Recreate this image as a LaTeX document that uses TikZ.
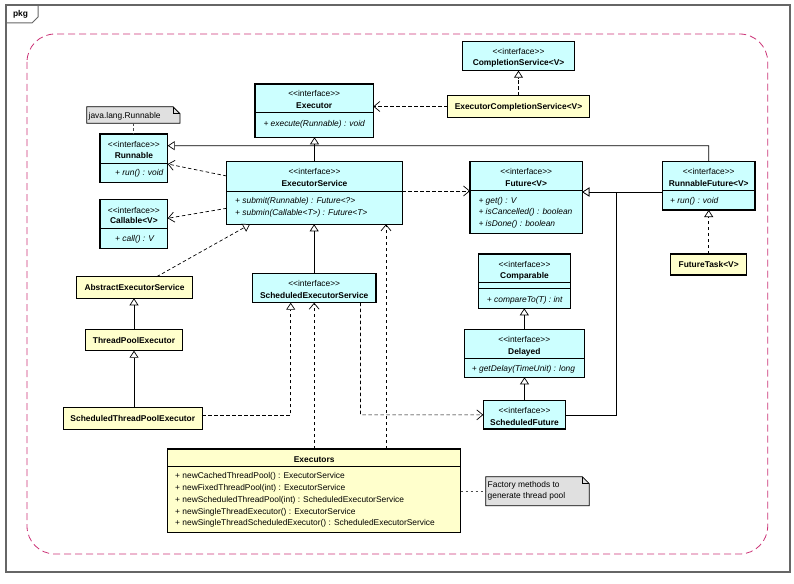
\documentclass[tikz,border=0pt]{standalone}
\usepackage{fontspec}
\newfontfamily\uf{Liberation Sans}
\usetikzlibrary{arrows.meta}
\definecolor{ifc}{HTML}{CCFFFF}
\definecolor{clc}{HTML}{FFFFCC}
\definecolor{notec}{HTML}{E0E0E0}
\definecolor{pinkc}{HTML}{CC3377}
\definecolor{framec}{HTML}{666666}
\newcommand\ubox[6]{%
 \pgfmathsetmacro\ubW{#5-#3}\pgfmathsetmacro\ubH{#6-#4}%
 \pgfmathsetmacro\ubX{(#3+#5)/2}\pgfmathsetmacro\ubY{(#4+#6)/2}%
 \node[#2, minimum width=\ubW pt, minimum height=\ubH pt] (#1) at (\ubX,\ubY) {};}
\newcommand\ct[4]{\node[txt,anchor=base] (#1) at (#2,{#3+3}) {#4};}
\newcommand\lt[4]{\node[txt,anchor=base west] (#1) at (#2,{#3+3}) {#4};}
\begin{document}
\begin{tikzpicture}[x=1pt,y=-1pt,
  txt/.style={inner sep=0pt,font=\uf\fontsize{8.4}{10}\selectfont},
  ifbox/.style={draw=black,fill=ifc,line width=1.3pt,inner sep=0pt,outer sep=0pt},
  clbox/.style={draw=black,fill=clc,line width=1.3pt,inner sep=0pt,outer sep=0pt},
  notebox/.style={inner sep=0pt,outer sep=0pt},
  divl/.style={line width=0.8pt},
  gen/.style={line width=0.7pt,-{Triangle[length=7pt,width=9pt,fill=white]}},
  real/.style={gen,dash pattern=on 3.5pt off 2.5pt},
  dep/.style={line width=0.7pt,dash pattern=on 3.5pt off 2.5pt,-{Straight Barb[length=6pt,width=10pt]}},
  ndot/.style={line width=0.8pt,draw=black!70,dash pattern=on 2.5pt off 2.5pt}]
\useasboundingbox (0,0) rectangle (794,583);
\fill[white] (0,0) rectangle (794,583);
% frame
\draw[framec,line width=1.5pt] (6,5) rectangle (790,572);
\node[notebox] (tab) at (22,14) {};
\draw[framec,line width=1pt] (6,23) -- (32,23) -- (38,17) -- (38,5);
\node[txt,font=\uf\fontsize{8.4}{10}\selectfont\bfseries] (pkg) at (20.5,14.5) {pkg};
% package boundary
\draw[pinkc,line width=0.8pt,dash pattern=on 7pt off 4pt,rounded corners=28pt] (27,34) rectangle (767.7,554);

% CompletionService
\ubox{compl}{ifbox}{462.7}{41.7}{574.3}{70.7}
\ct{complst}{518.5}{52}{<<interface>>}
\ct{complnm}{518.5}{63}{\bfseries CompletionService<V>}
% ExecutorCompletionService
\ubox{ecs}{clbox}{447.7}{95.7}{589.3}{117.3}
\ct{ecsnm}{518.5}{106.5}{\bfseries ExecutorCompletionService<V>}
% Executor
\ubox{exec}{ifbox}{255}{84}{373.3}{137.3}
\draw[divl] (255,112.7) -- (373.3,112.7);
\ct{execst}{314.2}{94}{<<interface>>}
\ct{execnm}{314.2}{106}{\bfseries Executor}
\ct{execm}{314.2}{123}{\itshape + execute(Runnable) : void}
% note java.lang.Runnable
\ubox{notea}{notebox}{86.7}{106.7}{180}{123.3}
\filldraw[fill=notec,draw=black,line width=0.8pt] (86.7,106.7) -- (173,106.7) -- (180,113.7) -- (180,123.3) -- (86.7,123.3) -- cycle;
\draw[line width=0.8pt] (173,106.7) -- (173,113.7) -- (180,113.7);
\lt{noteat}{88.5}{115}{java.lang.Runnable}
% Runnable
\ubox{runnable}{ifbox}{100}{134}{167.7}{182.3}
\draw[divl] (100,163.3) -- (167.7,163.3);
\ct{runst}{133.9}{144.3}{<<interface>>}
\ct{runnm}{133.9}{155.7}{\bfseries Runnable}
\lt{runm}{115}{172.7}{\itshape + run() : void}
% Callable
\ubox{callable}{ifbox}{100}{199.3}{167.7}{248.3}
\draw[divl] (100,228.3) -- (167.7,228.3);
\ct{callst}{133.9}{210}{<<interface>>}
\ct{callnm}{133.9}{220.7}{\bfseries Callable<V>}
\lt{callm}{115}{238.3}{\itshape + call() : V}
% ExecutorService
\ubox{es}{ifbox}{226.7}{161.7}{402.3}{224.3}
\draw[divl] (226.7,191) -- (402.3,191);
\ct{esst}{314.5}{171.7}{<<interface>>}
\ct{esnm}{314.5}{183.3}{\bfseries ExecutorService}
\lt{esma}{235}{200.7}{\itshape + submit(Runnable) : Future<?>}
\lt{esmb}{235}{212}{\itshape + submin(Callable<T>) : Future<T>}
% Future
\ubox{future}{ifbox}{470}{161.7}{582.3}{233.3}
\draw[divl] (470,190.7) -- (582.3,190.7);
\ct{futst}{526.2}{171.7}{<<interface>>}
\ct{futnm}{526.2}{183.3}{\bfseries Future<V>}
\lt{futma}{478.3}{200.7}{\itshape + get() : V}
\lt{futmb}{478.3}{211.7}{\itshape + isCancelled() : boolean}
\lt{futmc}{478.3}{223.3}{\itshape + isDone() : boolean}
% RunnableFuture
\ubox{rf}{ifbox}{662.3}{161.7}{755}{210}
\draw[divl] (662.3,190.7) -- (755,190.7);
\ct{rfst}{708.7}{171.7}{<<interface>>}
\ct{rfnm}{708.7}{183.3}{\bfseries RunnableFuture<V>}
\lt{rfm}{670}{200.7}{\itshape + run() : void}
% FutureTask
\ubox{ft}{clbox}{670.7}{254}{746.7}{275}
\ct{ftnm}{708.7}{264.5}{\bfseries FutureTask<V>}
% Comparable
\ubox{comp}{ifbox}{478.3}{254}{570.7}{308.3}
\draw[divl] (478.3,282.7) -- (570.7,282.7);
\draw[divl] (478.3,288.3) -- (570.7,288.3);
\ct{compst}{524.5}{264}{<<interface>>}
\ct{compnm}{524.5}{275.7}{\bfseries Comparable}
\lt{compm}{486.7}{299}{\itshape + compareTo(T) : int}
% Delayed
\ubox{delayed}{ifbox}{464.3}{329.3}{584.3}{377.3}
\draw[divl] (464.3,358.3) -- (584.3,358.3);
\ct{delst}{524.3}{339.3}{<<interface>>}
\ct{delnm}{524.3}{351}{\bfseries Delayed}
\lt{delm}{471.7}{368.3}{\itshape + getDelay(TimeUnit) : long}
% ScheduledFuture
\ubox{sf}{ifbox}{483.3}{400.7}{565.7}{429}
\ct{sfst}{524.5}{410.7}{<<interface>>}
\ct{sfnm}{524.5}{422}{\bfseries ScheduledFuture}
% AbstractExecutorService
\ubox{aes}{clbox}{76.7}{276.7}{192.3}{298.3}
\ct{aesnm}{134.5}{287.5}{\bfseries AbstractExecutorService}
% ThreadPoolExecutor
\ubox{tpe}{clbox}{85.7}{329.3}{182.3}{350.7}
\ct{tpenm}{134}{340}{\bfseries ThreadPoolExecutor}
% ScheduledThreadPoolExecutor
\ubox{stpe}{clbox}{63.3}{407.7}{202.3}{429.3}
\ct{stpenm}{132.8}{418.5}{\bfseries ScheduledThreadPoolExecutor}
% ScheduledExecutorService
\ubox{ses}{ifbox}{252.3}{273.3}{376}{302.7}
\ct{sesst}{314.2}{283.3}{<<interface>>}
\ct{sesnm}{314.2}{295}{\bfseries ScheduledExecutorService}
% Executors
\ubox{executors}{clbox}{167.7}{449}{460.7}{532.3}
\draw[divl] (167.7,466.7) -- (460.7,466.7);
\ct{exsnm}{314.2}{459}{\bfseries Executors}
\lt{exsa}{175}{475.7}{+ newCachedThreadPool() : ExecutorService}
\lt{exsb}{175}{487.3}{+ newFixedThreadPool(int) : ExecutorService}
\lt{exsc}{175}{499.3}{+ newScheduledThreadPool(int) : ScheduledExecutorService}
\lt{exsd}{175}{511}{+ newSingleThreadExecutor() : ExecutorService}
\lt{exse}{175}{522.7}{+ newSingleThreadScheduledExecutor() : ScheduledExecutorService}
% note factory
\ubox{noteb}{notebox}{485.7}{476.7}{589.3}{505.7}
\filldraw[fill=notec,draw=black,line width=0.8pt] (485.7,476.7) -- (582.3,476.7) -- (589.3,483.7) -- (589.3,505.7) -- (485.7,505.7) -- cycle;
\draw[line width=0.8pt] (582.3,476.7) -- (582.3,483.7) -- (589.3,483.7);
\lt{notebta}{487.5}{484}{Factory methods to}
\lt{notebtb}{487.5}{495.5}{generate thread pool}

% ---------- connectors ----------
\draw[real] (ecs.north) -- (compl.south);
\draw[dep] (ecs.west) -- (ecs.west -| exec.east);
\draw[ndot] (notea.south) -- (notea.south |- runnable.north);
\draw[gen] (es.north) -- (es.north |- exec.south);
\coordinate (rftop) at (708.7,145.7);
\draw[gen] (rf.north) -- (rftop) -- (rftop -| runnable.east);
\draw[dep] (226.7,176) -- (167.7,164);
\draw[dep] (226.7,208.3) -- (167.7,218.3);
\draw[dep] (es.east |- 0,191) -- (future.west |- 0,191);
\coordinate (sfj) at (616,192);
\draw[gen] (rf.west |- sfj) -- (sfj -| future.east);
\draw[gen] (sf.east) -| (sfj) -- (sfj -| future.east);
\draw[real] (ft.north) -- (ft.north |- rf.south);
\draw[gen] (delayed.north) -- (delayed.north |- comp.south);
\draw[gen] (sf.north) -- (sf.north |- delayed.south);
\coordinate (sesj) at (360.5,414.85);
\draw[dep] (ses.south -| sesj) -- (sesj) -- (sf.west);
\draw[real] (aes.north -| 156.7,0) -- (es.south -| 250,0);
\draw[gen] (tpe.north) -- (tpe.north |- aes.south);
\draw[gen] (stpe.north -| tpe.south) -- (tpe.south);
\coordinate (stpej) at (290.7,415);
\draw[real] (stpe.east |- stpej) -- (stpej) -- (stpej |- ses.south);
\draw[gen] (ses.north) -- (ses.north |- es.south);
\draw[dep] (executors.north) -- (executors.north |- ses.south);
\draw[dep] (executors.north -| 386,0) -- (es.south -| 386,0);
\draw[ndot] (executors.east |- noteb.west) -- (noteb.west);
\end{tikzpicture}
\end{document}
